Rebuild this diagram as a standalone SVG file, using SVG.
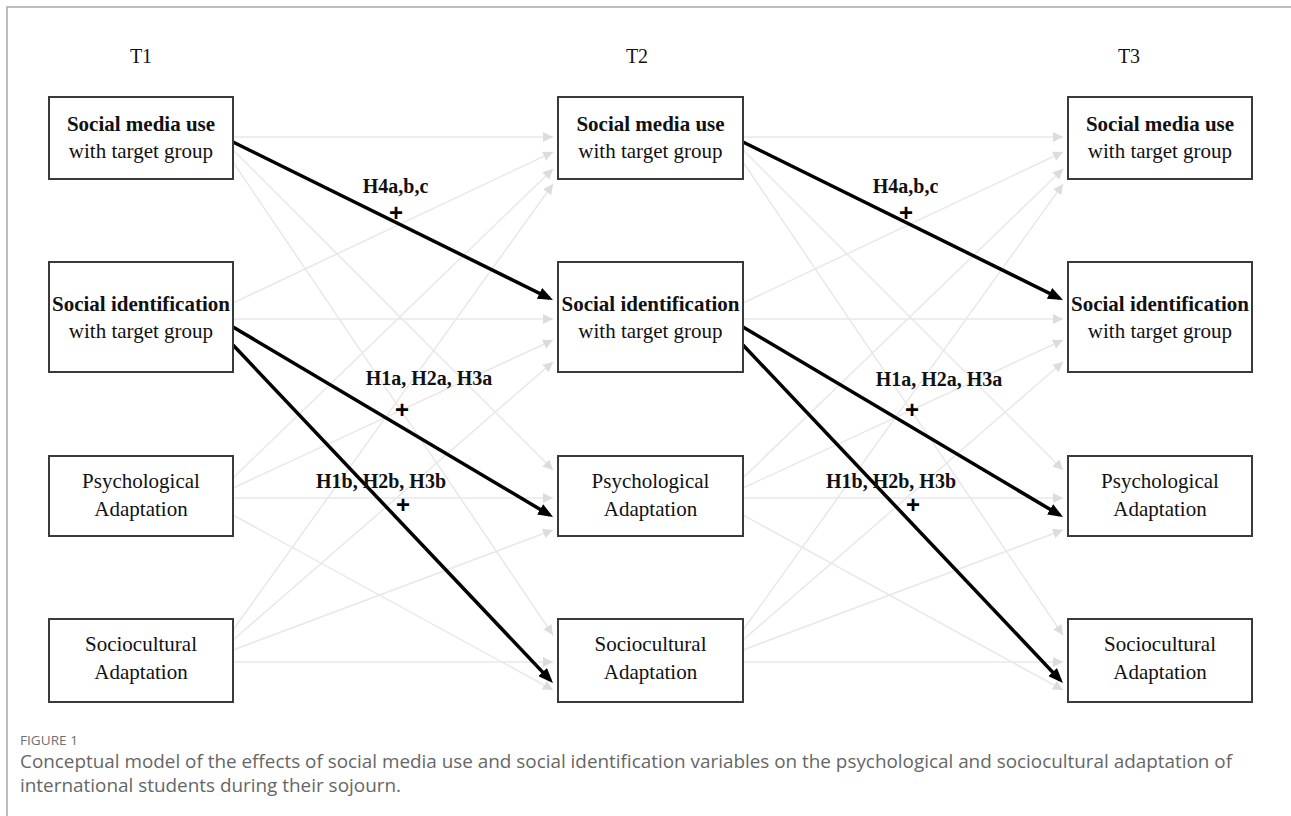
<svg xmlns="http://www.w3.org/2000/svg" width="1291" height="816" viewBox="0 0 1291 816">
<style>
.frame{stroke:#a8a8a8;stroke-width:1.5;fill:none}
.box{fill:#fff;stroke:#3a3a3a;stroke-width:2}
.nb{font-family:"Liberation Serif","Times New Roman",serif;font-weight:bold;font-size:21px;fill:#111;text-anchor:middle}
.nr{font-family:"Liberation Serif","Times New Roman",serif;font-size:21px;fill:#111;text-anchor:middle}
.th{font-family:"Liberation Serif","Times New Roman",serif;font-size:20px;fill:#111;text-anchor:middle}
.lb{font-family:"Liberation Serif","Times New Roman",serif;font-weight:bold;font-size:20px;fill:#111;text-anchor:middle}
.pl{font-family:"Liberation Sans",Arial,sans-serif;font-weight:bold;font-size:24px;fill:#000;text-anchor:middle}
.faint{stroke:#e8e8e8;stroke-width:1.5;fill:none;marker-end:url(#ag)}
.bold{stroke:#000;stroke-width:3.5;fill:none;marker-end:url(#ab)}
.figno{font-family:"Open Sans","Liberation Sans",sans-serif;font-size:13.5px;fill:#707070}
.cap{font-family:"Open Sans","Liberation Sans",sans-serif;font-size:17.5px;fill:#666}
</style>
<defs>
<marker id="ab" markerUnits="userSpaceOnUse" markerWidth="16" markerHeight="12" refX="11" refY="6" orient="auto"><path d="M0,0 L15,6 L0,12 z" fill="#000"/></marker>
<marker id="ag" markerUnits="userSpaceOnUse" markerWidth="11" markerHeight="10" refX="10" refY="5" orient="auto"><path d="M0,0 L10,5 L0,10 z" fill="#dcdcdc"/></marker>
</defs>
<rect x="0" y="0" width="1291" height="816" fill="#fff"/>
<path class="frame" d="M7,816 L7,7 L1291,7"/>

<g id="time-labels">
<text class="th" x="141" y="63">T1</text>
<text class="th" x="637" y="63">T2</text>
<text class="th" x="1129" y="63">T3</text>
</g>

<g id="connectors">
<g id="conn-t1-t2">
<line class="faint" x1="233" y1="137" x2="553" y2="137"/>
<line class="faint" x1="233" y1="150" x2="553" y2="470"/>
<line class="faint" x1="233" y1="162" x2="553" y2="635"/>
<line class="faint" x1="233" y1="303" x2="553" y2="152"/>
<line class="faint" x1="233" y1="319" x2="553" y2="319"/>
<line class="faint" x1="233" y1="478" x2="553" y2="169"/>
<line class="faint" x1="233" y1="488" x2="553" y2="340"/>
<line class="faint" x1="233" y1="498" x2="553" y2="498"/>
<line class="faint" x1="233" y1="515" x2="553" y2="690"/>
<line class="faint" x1="233" y1="630" x2="553" y2="184"/>
<line class="faint" x1="233" y1="640" x2="553" y2="362"/>
<line class="faint" x1="233" y1="650" x2="553" y2="530"/>
<line class="faint" x1="233" y1="662" x2="553" y2="662"/>
<line class="bold" x1="233" y1="142" x2="549.4" y2="298.2"/>
<line class="bold" x1="233" y1="327" x2="549.6" y2="515"/>
<line class="bold" x1="233" y1="345" x2="550.2" y2="680.1"/>
<text class="lb" x="395.5" y="193">H4a,b,c</text>
<text class="pl" x="396" y="221">+</text>
<text class="lb" x="429" y="385">H1a, H2a, H3a</text>
<text class="pl" x="402" y="418">+</text>
<text class="lb" x="381" y="488">H1b, H2b, H3b</text>
<text class="pl" x="403" y="513">+</text>
</g>
<g id="conn-t2-t3" transform="translate(510,0)">
<line class="faint" x1="233" y1="137" x2="553" y2="137"/>
<line class="faint" x1="233" y1="150" x2="553" y2="470"/>
<line class="faint" x1="233" y1="162" x2="553" y2="635"/>
<line class="faint" x1="233" y1="303" x2="553" y2="152"/>
<line class="faint" x1="233" y1="319" x2="553" y2="319"/>
<line class="faint" x1="233" y1="478" x2="553" y2="169"/>
<line class="faint" x1="233" y1="488" x2="553" y2="340"/>
<line class="faint" x1="233" y1="498" x2="553" y2="498"/>
<line class="faint" x1="233" y1="515" x2="553" y2="690"/>
<line class="faint" x1="233" y1="630" x2="553" y2="184"/>
<line class="faint" x1="233" y1="640" x2="553" y2="362"/>
<line class="faint" x1="233" y1="650" x2="553" y2="530"/>
<line class="faint" x1="233" y1="662" x2="553" y2="662"/>
<line class="bold" x1="233" y1="142" x2="549.4" y2="298.2"/>
<line class="bold" x1="233" y1="327" x2="549.6" y2="515"/>
<line class="bold" x1="233" y1="345" x2="550.2" y2="680.1"/>
<text class="lb" x="395.5" y="193">H4a,b,c</text>
<text class="pl" x="396" y="221">+</text>
<text class="lb" x="429" y="386">H1a, H2a, H3a</text>
<text class="pl" x="402" y="418">+</text>
<text class="lb" x="381" y="488">H1b, H2b, H3b</text>
<text class="pl" x="403" y="513">+</text>
</g>
</g>

<g id="t1-smu"><rect class="box" x="49" y="97" width="184" height="82"/><text class="nb" x="141" y="131">Social media use</text><text class="nr" x="141" y="158">with target group</text></g>
<g id="t1-sid"><rect class="box" x="49" y="262" width="184" height="110"/><text class="nb" x="141" y="311">Social identification</text><text class="nr" x="141" y="338">with target group</text></g>
<g id="t1-psy"><rect class="box" x="49" y="456" width="184" height="80"/><text class="nr" x="141" y="488">Psychological</text><text class="nr" x="141" y="516">Adaptation</text></g>
<g id="t1-soc"><rect class="box" x="49" y="619" width="184" height="83"/><text class="nr" x="141" y="651">Sociocultural</text><text class="nr" x="141" y="679">Adaptation</text></g>

<g id="t2-smu"><rect class="box" x="558" y="97" width="185" height="82"/><text class="nb" x="650.5" y="131">Social media use</text><text class="nr" x="650.5" y="158">with target group</text></g>
<g id="t2-sid"><rect class="box" x="558" y="262" width="185" height="110"/><text class="nb" x="650.5" y="311">Social identification</text><text class="nr" x="650.5" y="338">with target group</text></g>
<g id="t2-psy"><rect class="box" x="558" y="456" width="185" height="80"/><text class="nr" x="650.5" y="488">Psychological</text><text class="nr" x="650.5" y="516">Adaptation</text></g>
<g id="t2-soc"><rect class="box" x="558" y="619" width="185" height="83"/><text class="nr" x="650.5" y="651">Sociocultural</text><text class="nr" x="650.5" y="679">Adaptation</text></g>

<g id="t3-smu"><rect class="box" x="1068" y="97" width="184" height="82"/><text class="nb" x="1160" y="131">Social media use</text><text class="nr" x="1160" y="158">with target group</text></g>
<g id="t3-sid"><rect class="box" x="1068" y="262" width="184" height="110"/><text class="nb" x="1160" y="311">Social identification</text><text class="nr" x="1160" y="338">with target group</text></g>
<g id="t3-psy"><rect class="box" x="1068" y="456" width="184" height="80"/><text class="nr" x="1160" y="488">Psychological</text><text class="nr" x="1160" y="516">Adaptation</text></g>
<g id="t3-soc"><rect class="box" x="1068" y="619" width="184" height="83"/><text class="nr" x="1160" y="651">Sociocultural</text><text class="nr" x="1160" y="679">Adaptation</text></g>

<g id="caption">
<text class="figno" x="20" y="745" textLength="58" lengthAdjust="spacingAndGlyphs">FIGURE 1</text>
<text class="cap" x="20" y="768" textLength="1212" lengthAdjust="spacingAndGlyphs">Conceptual model of the effects of social media use and social identification variables on the psychological and sociocultural adaptation of</text>
<text class="cap" x="20" y="792" textLength="381" lengthAdjust="spacingAndGlyphs">international students during their sojourn.</text>
</g>
</svg>
